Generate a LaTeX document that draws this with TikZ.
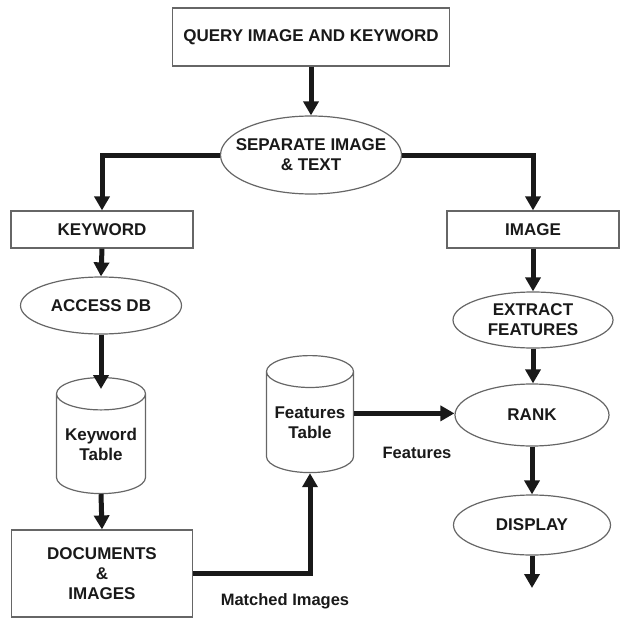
\documentclass[tikz,border=0pt]{standalone}
\usepackage{fontspec}
\setmainfont{Liberation Sans}
\usetikzlibrary{shapes.geometric,arrows.meta}

\begin{document}
\begin{tikzpicture}[x=1pt,y=-1pt,
  every node/.style={font=\fontsize{17}{20}\selectfont\bfseries, text=black!90, align=center, inner sep=0pt},
  boxnode/.style={draw=black!60, line width=1.2pt, rectangle},
  ovalnode/.style={draw=black!60, line width=1.2pt, ellipse, inner xsep=-20pt},
  drum/.style={draw=black!60, line width=1.2pt, cylinder, shape border rotate=90, aspect=0.45},
  flow/.style={line width=5pt, draw=black!90, -{Triangle[width=15pt,length=14pt]}},
  lbl/.style={font=\fontsize{16.5}{20}\selectfont\bfseries}]
\useasboundingbox (0,0) rectangle (621,618);

% process boxes
\node[boxnode, minimum width=277pt, minimum height=58pt] (q) at (311,37) {QUERY IMAGE AND KEYWORD};
\node[boxnode, minimum width=182pt, minimum height=37pt] (kw) at (102,229.5) {KEYWORD};
\node[boxnode, minimum width=172pt, minimum height=37pt] (img) at (533,229.5) {IMAGE};
\node[boxnode, minimum width=181pt, minimum height=87pt] (doc) at (102,573.5) {DOCUMENTS\\\&\\IMAGES};

% operations
\node[ovalnode, minimum width=181pt, minimum height=78pt] (sep) at (311,155) {SEPARATE IMAGE\\\& TEXT};
\node[ovalnode, minimum width=161pt, minimum height=57pt] (adb) at (101,305.5) {ACCESS DB};
\node[ovalnode, minimum width=160pt, minimum height=56pt] (ext) at (533,320) {EXTRACT\\FEATURES};
\node[ovalnode, minimum width=154pt, minimum height=62pt] (rank) at (532,415) {RANK};
\node[ovalnode, minimum width=157pt, minimum height=60pt] (disp) at (532,525) {DISPLAY};

% data stores
\node[drum, minimum width=89pt, minimum height=116pt, anchor=north] (kt) at (101,377) {Keyword\\Table};
\node[drum, minimum width=87pt, minimum height=117pt, anchor=north] (ft) at (310,355) {Features\\Table};

% edge labels
\node[lbl] (flab) at (417,453) {Features};
\node[lbl] (mlab) at (285,601) {Matched Images};

\coordinate (out) at (532,588);

% connectors
\draw[flow] (q.south) -- (sep.north);
\draw[flow] (sep.west) -| (kw.north);
\draw[flow] (sep.east) -| (img.north);
\draw[flow] (kw.south) -- (adb.north);
\draw[flow, shorten >=-12pt] (adb.south) -- (kt.north);
\draw[flow] (kt.south) -- (doc.north);
\draw[flow] (doc.east) -| (ft.south);
\draw[flow] (img.south) -- (ext.north);
\draw[flow] (ext.south) -- (ext.south |- rank.north);
\draw[flow] ([yshift=9pt]ft.east) -- ([yshift=9pt]ft.east -| rank.west);
\draw[flow] (rank.south) -- (disp.north);
\draw[flow] (disp.south) -- (out);
\end{tikzpicture}
\end{document}
